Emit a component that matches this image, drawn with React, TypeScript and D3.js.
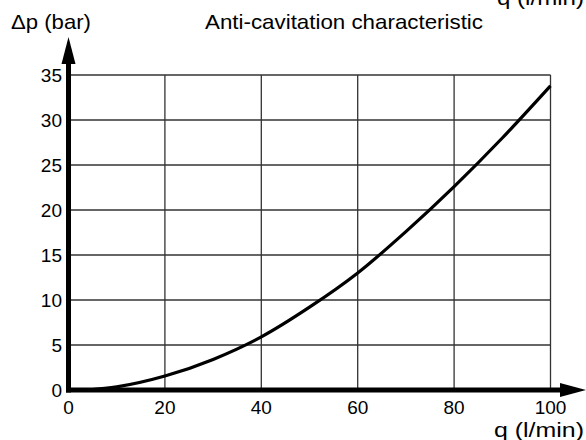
import React from "react";
import * as d3 from "d3";

const qValues = [4, 10, 20, 30, 40, 50, 60, 70, 80, 90, 100];
const dpValues = [0, 0.35, 1.55, 3.4, 5.9, 9.2, 13.0, 17.6, 22.6, 28.0, 33.8];
const xTicks = [0, 20, 40, 60, 80, 100];
const yTicks = [0, 5, 10, 15, 20, 25, 30, 35];
const title = "Anti-cavitation characteristic";
const yLabel = "\u0394p (bar)";
const xLabel = "q (l/min)";

const W = 586;
const H = 440;
const FONT = "'Liberation Sans', Arial, Helvetica, sans-serif";

export default function App() {
  const x = d3.scaleLinear().domain([0, 100]).range([68.5, 550.5]);
  const y = d3.scaleLinear().domain([0, 35]).range([390, 75]);
  const line = d3
    .line<number>()
    .x((_, i) => x(qValues[i]))
    .y((d) => y(d))
    .curve(d3.curveMonotoneX);
  const x0 = x(0);
  const y0 = y(0);
  return (
    <svg
      width={W}
      height={H}
      style={{ position: "absolute", left: 0, top: 0, background: "#fff" }}
      fontFamily={FONT}
    >
      <rect width={W} height={H} fill="#fff" />
      {/* grid */}
      {xTicks.filter((t) => t > 0).map((t) => (
        <line key={"gx" + t} x1={x(t)} x2={x(t)} y1={y(0)} y2={y(35)} stroke="#333" strokeWidth={1.3} />
      ))}
      {yTicks.filter((t) => t > 0).map((t) => (
        <line key={"gy" + t} x1={x(0)} x2={x(100)} y1={y(t)} y2={y(t)} stroke="#333" strokeWidth={1.3} />
      ))}
      {/* curve */}
      <path d={line(dpValues) || ""} fill="none" stroke="#000" strokeWidth={3.2} />
      {/* axes */}
      <line x1={x0} x2={x0} y1={y0 + 2.5} y2={62} stroke="#000" strokeWidth={5} />
      <path d={`M${x0 - 7},${64} L${x0},${37} L${x0 + 7},${64} Z`} fill="#000" />
      <line x1={x0 - 2.5} x2={562} y1={y0} y2={y0} stroke="#000" strokeWidth={5} />
      <path d={`M${560},${y0 - 7} L${586},${y0} L${560},${y0 + 7} Z`} fill="#000" />
      {/* tick labels */}
      {yTicks.map((t) => (
        <text key={"ty" + t} x={62} y={y(t) + 7} textAnchor="end" fontSize={19} fill="#000">
          {t}
        </text>
      ))}
      {xTicks.map((t) => (
        <text key={"tx" + t} x={x(t)} y={414} textAnchor="middle" fontSize={19} fill="#000">
          {t}
        </text>
      ))}
      {/* labels */}
      <text x={11} y={29} fontSize={21} fill="#000" textLength={80} lengthAdjust="spacingAndGlyphs">{yLabel}</text>
      <text x={205} y={29} fontSize={21} fill="#000" textLength={278} lengthAdjust="spacingAndGlyphs">{title}</text>
      <text x={494} y={437} fontSize={21} fill="#000" textLength={90} lengthAdjust="spacingAndGlyphs">{xLabel}</text>
      <text x={497} y={5} fontSize={21} fill="#000" textLength={87} lengthAdjust="spacingAndGlyphs">{xLabel}</text>
    </svg>
  );
}
